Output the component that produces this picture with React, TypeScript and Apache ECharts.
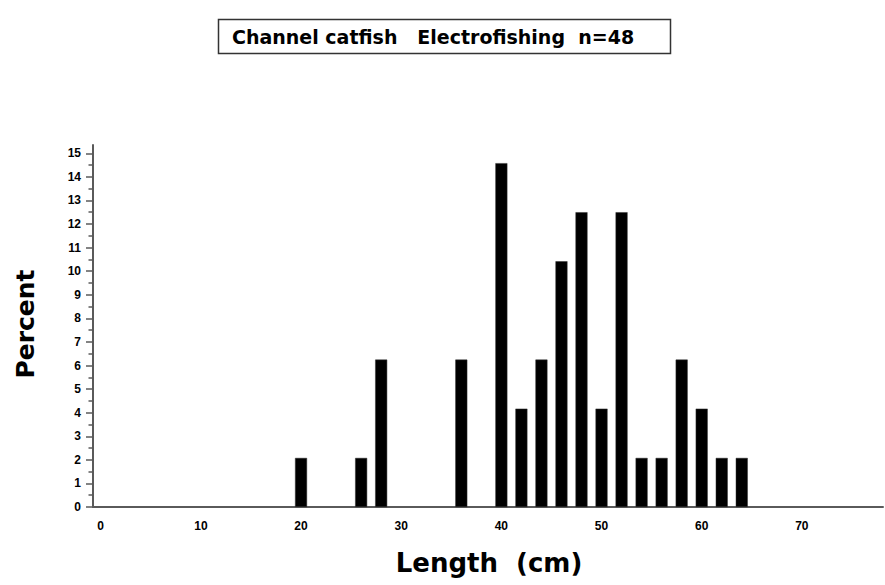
import React, { useEffect, useRef } from "react";
import * as echarts from "echarts";

const lengths = [20, 26, 28, 36, 40, 42, 44, 46, 48, 50, 52, 54, 56, 58, 60, 62, 64];
const percents = [2.08, 2.08, 6.25, 6.25, 14.58, 4.17, 6.25, 10.42, 12.5, 4.17, 12.5, 2.08, 2.08, 6.25, 4.17, 2.08, 2.08];
const xTickLabels = [0, 10, 20, 30, 40, 50, 60, 70];
const yTickLabels = [0, 1, 2, 3, 4, 5, 6, 7, 8, 9, 10, 11, 12, 13, 14, 15];
const yMinorTicks = [0.5, 1.5, 2.5, 3.5, 4.5, 5.5, 6.5, 7.5, 8.5, 9.5, 10.5, 11.5, 12.5, 13.5, 14.5];
const titleText = "Channel catfish   Electrofishing  n=48";
const xTitle = "Length  (cm)";
const yTitle = "Percent";

export default function App() {
  const ref = useRef<HTMLDivElement>(null);
  useEffect(() => {
    if (!ref.current) return;
    const chart = echarts.init(ref.current, null, { renderer: "svg" });
    const axisColor = "#5a5a5a";
    const labelFont = {
      fontFamily: "Liberation Sans",
      fontWeight: "bold" as const,
      fontSize: 12,
      color: "#000",
    };
    chart.setOption({
      animation: false,
      backgroundColor: "#fff",
      grid: { left: 93, right: 2, top: 145, bottom: 78, containLabel: false },
      xAxis: {
        type: "value",
        min: -0.77,
        max: 78.1,
        axisLine: { show: true, onZero: false, lineStyle: { color: axisColor, width: 2 } },
        axisTick: { show: false },
        splitLine: { show: false },
        axisLabel: { ...labelFont, margin: 13, customValues: xTickLabels },
      },
      yAxis: [
        {
          type: "value",
          min: 0,
          max: 15.35,
          axisLine: { show: true, onZero: false, lineStyle: { color: axisColor, width: 2 } },
          axisTick: {
            show: true,
            length: 7,
            lineStyle: { color: axisColor, width: 1.5 },
            customValues: yTickLabels,
          },
          splitLine: { show: false },
          axisLabel: { ...labelFont, margin: 12, customValues: yTickLabels },
        },
        {
          type: "value",
          min: 0,
          max: 15.35,
          position: "left",
          axisLine: { show: false, onZero: false },
          axisTick: {
            show: true,
            length: 4.5,
            lineStyle: { color: axisColor, width: 1.5 },
            customValues: yMinorTicks,
          },
          splitLine: { show: false },
          axisLabel: { show: false },
        },
      ],
      series: [
        {
          type: "bar",
          yAxisIndex: 0,
          barWidth: 12,
          data: lengths.map((l, i) => [l, percents[i]]),
          itemStyle: { color: "#000", borderColor: "#333", borderWidth: 0.5 },
        },
      ],
      graphic: [
        {
          type: "rect",
          shape: { x: 218.5, y: 19.5, width: 452, height: 34 },
          style: { fill: "#fff", stroke: "#333", lineWidth: 1.5 },
        },
        {
          type: "text",
          x: 232,
          y: 37,
          style: {
            text: titleText,
            fontFamily: "DejaVu Sans",
            fontWeight: "bold",
            fontSize: 19,
            fill: "#000",
            verticalAlign: "middle",
          },
        },
        {
          type: "text",
          x: 489,
          y: 563,
          style: {
            text: xTitle,
            fontFamily: "DejaVu Sans",
            fontWeight: "bold",
            fontSize: 26,
            fill: "#000",
            align: "center",
            verticalAlign: "middle",
          },
        },
        {
          type: "text",
          x: 25,
          y: 324,
          rotation: Math.PI / 2,
          style: {
            text: yTitle,
            fontFamily: "DejaVu Sans",
            fontWeight: "bold",
            fontSize: 25,
            fill: "#000",
            align: "center",
            verticalAlign: "middle",
          },
        },
      ],
    });
    return () => chart.dispose();
  }, []);
  return (
    <div
      ref={ref}
      style={{ position: "fixed", left: 0, top: 0, width: 885, height: 585 }}
    />
  );
}
